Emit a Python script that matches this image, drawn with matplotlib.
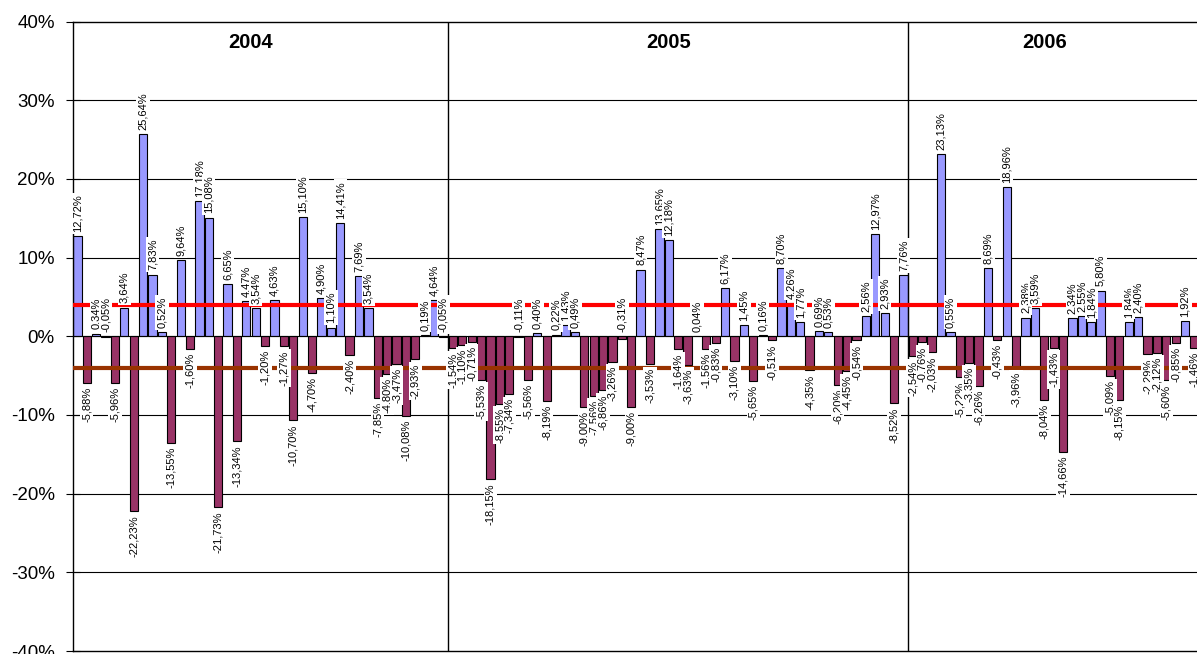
import numpy as np
import matplotlib
matplotlib.use("Agg")
import matplotlib.pyplot as plt

plt.rcParams['font.family'] = ['Liberation Sans', 'DejaVu Sans']

# weekly returns in %, one list per year
years = ['2004', '2005', '2006']
ret_2004 = [12.72, -5.88, 0.34, -0.05, -5.96, 3.64, -22.23, 25.64, 7.83, 0.52,
            -13.55, 9.64, -1.60, 17.18, 15.08, -21.73, 6.65, -13.34, 4.47, 3.54,
            -1.20, 4.63, -1.27, -10.70, 15.10, -4.70, 4.90, 1.10, 14.41, -2.40,
            7.69, 3.54, -7.85, -4.80, -3.47, -10.08, -2.93, 0.19, 4.64, -0.05]
ret_2005 = [-1.54, -1.10, -0.71, -5.53, -18.15, -8.55, -7.34, -0.11, -5.56, 0.40,
            -8.19, 0.22, 1.43, 0.49, -9.00, -7.56, -6.86, -3.26, -0.31, -9.00,
            8.47, -3.53, 13.65, 12.18, -1.64, -3.63, 0.04, -1.56, -0.83, 6.17,
            -3.10, 1.45, -5.65, 0.16, -0.51, 8.70, 4.26, 1.77, -4.35, 0.69,
            0.53, -6.20, -4.45, -0.54, 2.56, 12.97, 2.93, -8.52, 7.76]
ret_2006 = [-2.54, -0.76, -2.03, 23.13, 0.55, -5.22, -3.35, -6.26, 8.69, -0.43,
            18.96, -3.96, 2.38, 3.59, -8.04, -1.43, -14.66, 2.34, 2.55, 1.84,
            5.80, -5.09, -8.15, 1.84, 2.40, -2.29, -2.12, -5.60, -0.85, 1.92,
            -1.46]
upper_band = 4.0
lower_band = -4.0
y_ticks = [-40, -30, -20, -10, 0, 10, 20, 30, 40]

groups = [ret_2004, ret_2005, ret_2006]
values = ret_2004 + ret_2005 + ret_2006
x = np.arange(len(values))

W, H = 1197, 654
fig = plt.figure(figsize=(W / 100, H / 100), dpi=100)
ax = fig.add_axes([72.7 / W, 3 / H, 1 - 72.7 / W, (651 - 21.5) / H])

colors = ['#9999FF' if v >= 0 else '#993366' for v in values]
ax.bar(x, values, width=0.88, color=colors, edgecolor='black',
       linewidth=0.8, zorder=2)

# horizontal grid + zero axis
for t in y_ticks[1:-1]:
    ax.axhline(t, color='black', lw=0.8, zorder=1 if t else 2.5)

# +/-4% bands
ax.axhline(upper_band, color='#FF0000', lw=3, zorder=3)
ax.axhline(lower_band, color='#993300', lw=3, zorder=3)

# year separators and titles
start = 0
for name, g in zip(years, groups):
    end = start + len(g)
    if start > 0:
        ax.axvline(start - 0.5, color='black', lw=1, zorder=2.5)
    ax.text((start + end - 1) / 2 - 1, 37.3, name, ha='center', va='center',
            fontsize=14.5, fontweight='bold', zorder=5)
    start = end

# data labels
for i, v in enumerate(values):
    txt = f"{v:.2f}".replace('.', ',') + '%'
    if v > -0.4:
        y, dy, va = max(v, 0), 3, 'bottom'
    else:
        y, dy, va = v, -3, 'top'
    ax.annotate(txt, (i, y), xytext=(0, dy), textcoords='offset points',
                rotation=90, ha='center', va=va, fontsize=8, zorder=4,
                bbox=dict(boxstyle='square,pad=0.15', fc='white', ec='none'))

ax.set_xlim(-0.5, (W - 72.7) / 9.387 - 0.5)
ax.set_ylim(-40, 40)
ax.set_xticks([])
ax.set_yticks(y_ticks)
ax.set_yticklabels([f'{t}%' for t in y_ticks])
ax.tick_params(axis='y', direction='inout', length=10, width=0.8,
               pad=8, labelsize=13.5)
ax.spines['right'].set_visible(False)
for s in ['left', 'top', 'bottom']:
    ax.spines[s].set_linewidth(1)
    ax.spines[s].set_color('black')

fig.savefig('out.png', dpi=100)
